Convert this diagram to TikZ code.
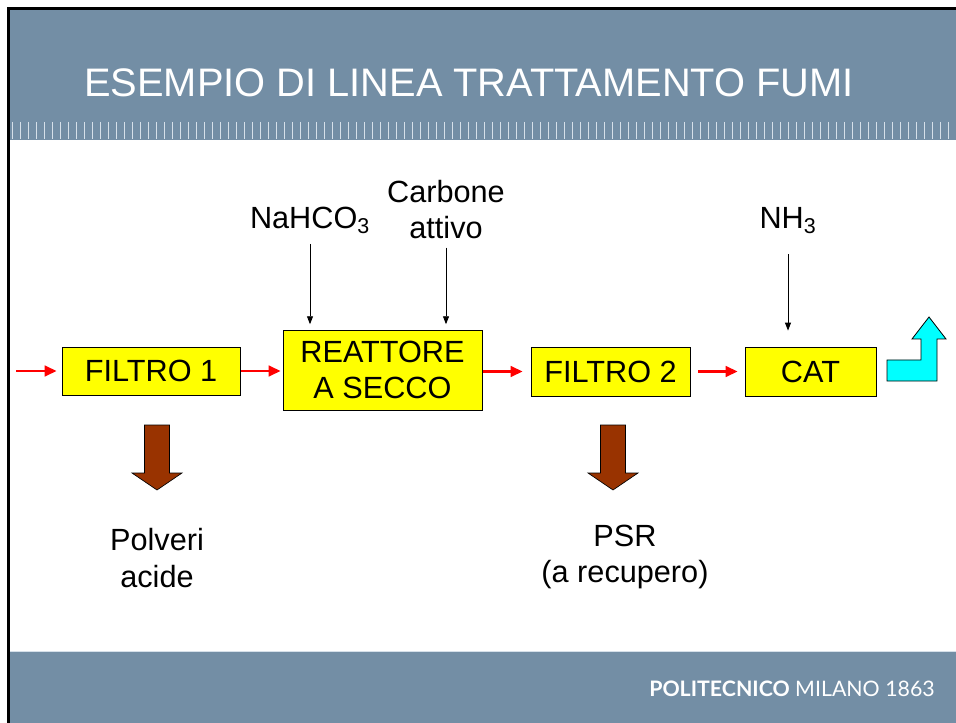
\documentclass[tikz,border=0pt]{standalone}
\usepackage{fontspec}
\setmainfont{Liberation Sans}
\newfontfamily\footfont{Lato}
\usepackage{xcolor}
\usepackage{tikz}
\usetikzlibrary{arrows.meta,shadows}

\definecolor{barblue}{RGB}{115,142,165}
\definecolor{tickgray}{RGB}{214,224,233}
\definecolor{boxyellow}{RGB}{255,255,0}
\definecolor{dustbrown}{RGB}{153,51,0}
\definecolor{stackcyan}{RGB}{0,255,255}

\tikzset{
  unit/.style={draw=black, fill=boxyellow, line width=0.6pt, inner sep=0pt, align=center,
    font=\fontsize{23}{27}\selectfont,
    drop shadow={shadow xshift=1pt, shadow yshift=-1pt, fill=gray, opacity=0.8}},
  flow/.style={draw=red, line width=2pt, -{Triangle[length=9pt,width=8pt]}},
  feed/.style={draw=black, line width=0.7pt, -{Triangle[length=6pt,width=4.5pt]}},
  lbl/.style={font=\fontsize{23}{27.5}\selectfont, inner sep=0pt, align=center},
}

\begin{document}
\begin{tikzpicture}[x=0.75pt, y=-0.75pt]
    \useasboundingbox (0,0) rectangle (956,723);
    \fill[white] (0,0) rectangle (956,723);

    % frame and bars
    \fill[black] (7,7) rectangle (956,10);
    \fill[black] (7,7) rectangle (10,723);
    \fill[barblue] (10,10) rectangle (956,140);
    \foreach \x in {12,20,...,956}
        \draw[tickgray, line width=0.75pt] (\x,122) -- (\x,139);
    \fill[barblue] (10,651) rectangle (956,723);
    \draw[tickgray, line width=0.5pt] (10,651) -- (956,651);

    \node[anchor=base west, inner sep=0pt, text=white, font=\fontsize{29.85}{34}\selectfont] (title) at (84,97) {ESEMPIO DI LINEA TRATTAMENTO FUMI};
    \node[anchor=base east, inner sep=0pt, text=white, font=\footfont\fontsize{16}{19}\selectfont] (brand) at (935,696) {\textbf{POLITECNICO} MILANO 1863};

    % process units
    \node[unit, minimum width=133.5pt, minimum height=36pt] (f1) at (151,371) {FILTRO 1};
    \node[unit, minimum width=149.25pt, minimum height=60pt] (re) at (382.5,370) {REATTORE\\A SECCO};
    \node[unit, minimum width=119.25pt, minimum height=36.75pt] (f2) at (610.5,371.5) {FILTRO 2};
    \node[unit, minimum width=98.25pt, minimum height=36.75pt] (cat) at (810.5,371.5) {CAT};

    % flue gas line
    \coordinate (in) at (16,371);
    \draw[flow, shorten >=3.75pt] (in) -- (f1.west);
    \draw[flow, shorten <=0.75pt, shorten >=1.5pt] (f1.east) -- (re.west |- f1.east);
    \draw[flow, shorten <=0.75pt, shorten >=6pt] (re.east |- f2.west) -- (f2.west);
    \draw[flow, shorten <=6pt, shorten >=5.25pt] (f2.east) -- (cat.west);

    % reagents
    \node[lbl, anchor=base] (nahco) at (310,229) {NaHCO\textsubscript{3}};
    \node[lbl, anchor=base] (carb) at (446,239) {Carbone\\attivo};
    \node[lbl, anchor=base] (nh) at (788,229) {NH\textsubscript{3}};
    \draw[feed, shorten <=7pt, shorten >=4pt] (nahco.south) -- (nahco.south |- re.north);
    \draw[feed, shorten <=6pt, shorten >=4pt] (carb.south) -- (carb.south |- re.north);
    \draw[feed, shorten <=15pt, shorten >=12pt] (nh.south) -- (nh.south |- cat.north);

    % residues
    \foreach \cx in {157,613}
        \draw[fill=dustbrown, line width=0.5pt] (\cx-12.5,425) -- (\cx+12.5,425) -- (\cx+12.5,473) -- (\cx+25,473)
            -- (\cx,490) -- (\cx-25,473) -- (\cx-12.5,473) -- cycle;
    \node[lbl] (dust) at (157,558) {Polveri\\acide};
    \node[lbl] (psr) at (625,557) {PSR\\(a recupero)};

    % stack
    \draw[fill=stackcyan, line width=0.6pt] (887,360) -- (921,360) -- (921,339) -- (912,339) -- (929,317)
        -- (946,339) -- (937,339) -- (937,381) -- (887,381) -- cycle;
\end{tikzpicture}
\end{document}
